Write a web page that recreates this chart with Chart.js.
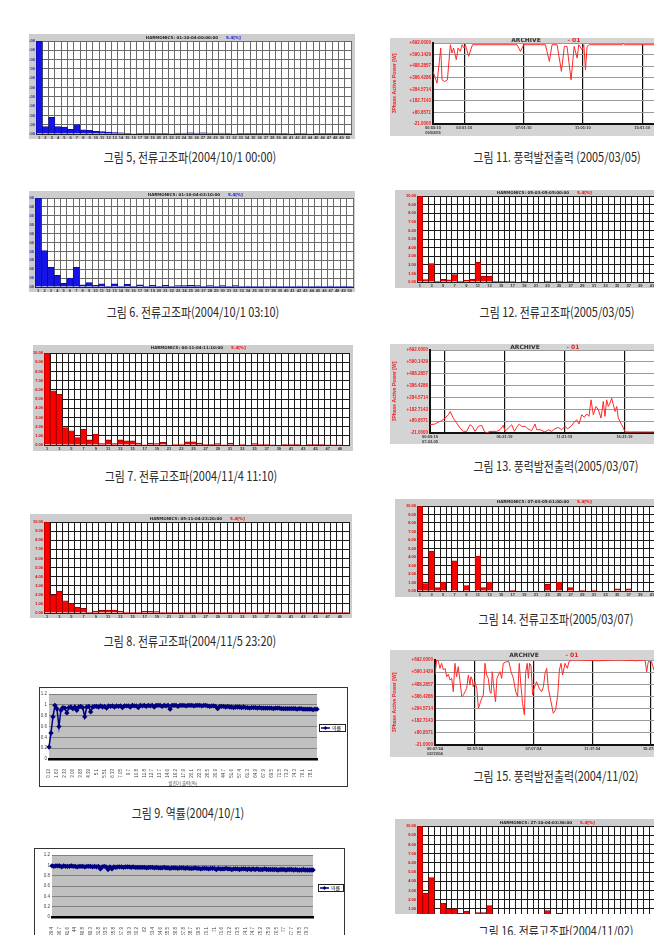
<!DOCTYPE html>
<html>
<head>
<meta charset="utf-8">
<script src="https://cdn.jsdelivr.net/npm/chart.js@4.4.1/dist/chart.umd.min.js"></script>
<style>
html, body { margin: 0; padding: 0; background: #fff; }
body { width: 654px; height: 935px; overflow: hidden; position: relative; font-family: "Noto Sans CJK KR", "Noto Sans", sans-serif; }
.panel { position: absolute; }
.panel canvas { position: absolute; left: 0; top: 0; }
.cap { position: absolute; font-size: 13px; line-height: 16px; color: #2a2a2a; white-space: nowrap; transform: translateX(-50%) scaleX(0.84); }
</style>
</head>
<body>
<script>
// harmonic order 1..50
const harmonicNo = [1,2,3,4,5,6,7,8,9,10,11,12,13,14,15,16,17,18,19,20,21,22,23,24,25,
  26,27,28,29,30,31,32,33,34,35,36,37,38,39,40,41,42,43,44,45,46,47,48,49,50];

// current harmonics [%]
const fig5Values = [10, 0.8, 1.8, 0.8, 0.75, 0.5, 1.0, 0.45, 0.4, 0.3,
  0.25, 0.2, 0.15, 0.12, 0.08, 0.05, 0.03, 0.03, 0.02, 0.02,
  0.02, 0.05, 0.08, 0.1, 0.12, 0.1, 0.12, 0.1, 0.08, 0.1,
  0.08, 0.05, 0.03, 0.02, 0.02, 0.02, 0.02, 0.02, 0.02, 0.03,
  0.05, 0.08, 0.06, 0.05, 0.03, 0.02, 0.02, 0.02, 0.02, 0.02];
const fig6Values = [10, 4.1, 2.2, 1.3, 0.4, 1.0, 2.2, 0.25, 0.5, 0.2,
  0.35, 0.05, 0.35, 0.05, 0.3, 0.05, 0.25, 0.05, 0.2, 0.05,
  0.2, 0.05, 0.15, 0.15, 0.2, 0.15, 0.05, 0.15, 0.05, 0.15,
  0.05, 0.15, 0.05, 0.1, 0.05, 0.05, 0.05, 0.1, 0.05, 0.05,
  0.05, 0.1, 0.05, 0.05, 0.1, 0.05, 0.1, 0.05, 0.1, 0.05];
const fig7Values = [10, 5.9, 5.5, 1.9, 1.55, 0.8, 1.7, 0.55, 1.2, 0.15,
  0.55, 0.15, 0.55, 0.45, 0.45, 0.2, 0.05, 0.2, 0.15, 0.3,
  0, 0.1, 0.1, 0.35, 0.35, 0.2, 0.07, 0.07, 0.15, 0.05,
  0.2, 0, 0.1, 0, 0.15, 0.1, 0.1, 0.05, 0, 0.07,
  0.1, 0.07, 0, 0.07, 0.07, 0.07, 0.05, 0.05, 0.05, 0];
const fig8Values = [10, 2.0, 2.4, 1.35, 1.05, 0.65, 0.5, 0.07, 0.2, 0.3,
  0.33, 0.33, 0.22, 0.1, 0.04, 0.07, 0.18, 0.18, 0.15, 0.07,
  0.07, 0.04, 0.07, 0.1, 0.1, 0.1, 0.07, 0.04, 0.04, 0.04,
  0.07, 0.07, 0.07, 0.04, 0.04, 0.04, 0.04, 0.04, 0.04, 0.04,
  0.04, 0.07, 0.07, 0.04, 0.04, 0.04, 0.04, 0.04, 0.04, 0.04];
const fig12Values = [10, 0.27, 2.15, 0.1, 0.3, 0.25, 0.85, 0.1, 0.2, 0.35,
  2.3, 0.7, 0.7, 0.03, 0.03, 0.02, 0.05, 0, 0.03, 0,
  0, 0, 0.1, 0, 0.1, 0, 0.03, 0, 0, 0,
  0, 0, 0, 0, 0, 0, 0, 0, 0, 0,
  0, 0, 0, 0, 0, 0, 0, 0, 0, 0];
const fig14Values = [10, 0.87, 4.7, 0.4, 1.05, 0, 3.55, 0, 0.65, 0,
  4.1, 0.4, 1.05, 0, 0, 0, 0.07, 0, 0, 0,
  0, 0, 0.8, 0, 1.05, 0, 0.4, 0, 0.05, 0,
  0.03, 0, 0, 0, 0.25, 0, 0.25, 0, 0, 0,
  0, 0, 0, 0, 0, 0, 0, 0, 0, 0];
const fig16Values = [10, 2.7, 4.4, 0, 1.6, 1.0, 1.0, 0.5, 0.75, 0,
  0.6, 0.6, 1.35, 0, 0, 0, 0, 0, 0, 0,
  0, 0, 0.8, 0, 0.5, 0, 0, 0, 0, 0,
  0, 0, 0, 0, 0, 0, 0, 0, 0, 0,
  0, 0, 0, 0, 0, 0, 0, 0, 0, 0];

// 3 phase active power, time in hours (fig 11, 13) / minutes (fig 15)
const powerTicks = [-21, 80.8571, 182.7143, 284.5714, 386.4286, 488.2857, 590.1429, 692];

const time11 = [0, 0.16, 0.27, 0.43, 0.52, 0.61, 0.79, 0.97, 1.17, 1.28, 1.39, 1.57, 1.69, 1.84, 1.96,
  2.09, 2.18, 2.40, 2.58, 2.67, 5.66, 5.89, 6.11, 7.57, 7.84, 8.02, 8.36, 8.65, 8.85, 9.03,
  9.30, 9.51, 9.71, 9.82, 10.04, 10.16, 10.27, 10.38, 10.54, 12.74, 12.81, 12.9, 19.2];
const power11 = [442, 383, 338, 530, 648, 368, 353, 368, 677, 604, 648, 545, 648, 618, 677,
  648, 677, 574, 648, 677, 677, 618, 677, 677, 530, 677, 677, 442, 662, 662,
  368, 662, 559, 677, 633, 677, 456, 662, 677, 677, 690, 677, 677];
const tickVals11 = [0, 2.1, 6.1, 10.1, 14.1];
const tickLabels11 = [['00:55:10', '05/03/05'], '03:01:10', '07:01:10', '11:01:10', '15:01:10'];

const time13 = [0, 0.42, 0.69, 0.97, 1.25, 1.53, 1.69, 1.94, 2.22, 2.50,
  2.78, 3.06, 3.33, 3.53, 3.75, 4.03, 4.31, 4.53, 4.72, 5.00,
  5.56, 5.83, 6.11, 6.25, 6.53, 6.81, 7.03, 7.22, 7.44, 7.64,
  7.92, 8.14, 8.47, 8.75, 8.89, 9.17, 9.58, 9.86, 10.14, 10.42,
  10.69, 10.97, 11.25, 11.47, 11.75, 12.03, 12.22, 12.42, 12.64, 12.86,
  13.06, 13.25, 13.42, 13.61, 13.83, 14.03, 14.25, 14.44, 14.58, 14.72,
  14.86, 15.00, 15.14, 15.28, 15.42, 15.56, 15.69, 15.83, 15.97, 16.11,
  16.25, 16.81, 24];
const power13 = [50, 56, 73, 85, 107, 136, 164, 107, 65, 22,
  -7, -7, 50, 36, -7, 36, 45, -7, -21, -7,
  -7, 7, 45, -7, 22, 50, -7, 27, 56, 36,
  36, 16, -1, 56, 7, 7, -12, 7, -7, 16,
  27, 7, 36, 16, 36, 73, 93, 56, 136, 113,
  142, 122, 264, 136, 207, 179, 107, 250, 122, 264,
  207, 236, 278, 221, 164, 207, 107, 79, 50, 22,
  -12, -12, -12];
const tickVals13 = [0, 1.2, 6.2, 11.2, 16.2];
const tickLabels13 = [['00:09:19', '07-03-05'], '', '06:21:19', '11:21:19', '16:21:19'];

const time15 = [0, 7, 14, 21, 28, 36, 43, 50, 57, 64, 71, 78, 85, 92, 99, 107, 114, 121, 128, 135,
  142, 149, 153, 159, 163, 170, 178, 185, 192, 199, 206, 213, 220, 227, 234, 239, 244, 253, 258, 264,
  270, 277, 284, 291, 305, 315, 324, 334, 344, 352, 359, 366, 373, 381, 386, 393, 398, 403, 409, 416,
  422, 433, 444, 454, 462, 469, 476, 483, 493, 504, 514, 523, 530, 537, 544, 554, 564, 571, 582, 604,
  696, 781, 859, 895, 902, 909, 923, 933, 944, 1065, 1206];
const power15 = [566, 692, 684, 622, 664, 608, 622, 552, 572, 524, 538, 426, 664, 552, 636, 510, 384, 398, 426, 454,
  566, 482, 552, 524, 468, 510, 454, 287, 328, 370, 398, 664, 566, 538, 426, 412, 594, 412, 342, 538,
  566, 594, 538, 664, 678, 678, 594, 538, 426, 384, 664, 482, 328, 231, 580, 664, 538, 664, 650, 398,
  454, 510, 454, 426, 468, 580, 622, 454, 356, 245, 273, 398, 608, 664, 566, 664, 622, 678, 692, 692,
  686, 692, 686, 692, 594, 678, 678, 608, 678, 684, 684];
const tickVals15 = [0, 170, 420, 670, 920];
const tickLabels15 = [['00:07:54', '02/11/04'], '02:57:54', '07:07:54', '11:17:54', '15:27:54'];

// power factor (Excel charts), 4 samples per shown label
const fig9Labels = ['0.13','1.63','2.33','3.06','3.68','4.39','5.1','5.51','6.33','7.05','9.7','10.8',
  '11.8','12.7','13.7','14.6','16.2','17.9','20.1','22.3','26.5','30.9','44.7','51.6','57.4','61.3',
  '64.9','67.9','69.5','71.5','73.2','74.3','76.1','78.1'];
const fig9Values = [0.22, 0.48, 0.78, 0.99,  0.93, 0.6, 0.9, 0.95,  0.94, 0.85, 0.95, 0.96,  0.93, 0.96, 0.9, 0.96,
  0.97, 0.95, 0.78, 0.96,  0.97, 0.87, 0.96, 0.97,  0.97, 0.96, 0.98, 0.96,  0.97, 0.94, 0.98, 0.97,
  0.98, 0.96, 0.98, 0.97,  0.98, 0.95, 0.98, 0.98,  0.98, 0.96, 0.99, 0.98,  0.98, 0.95, 0.99, 0.98,
  0.99, 0.97, 0.99, 0.98,  0.99, 0.96, 0.99, 0.99,  0.99, 0.97, 0.99, 0.98,  0.99, 0.92, 0.99, 0.99,
  0.99, 0.97, 0.99, 0.99,  0.99, 0.98, 0.99, 0.99,  0.99, 0.98, 0.99, 0.99,  0.99, 0.98, 0.99, 0.99,
  0.98, 0.97, 0.98, 0.98,  0.97, 0.93, 0.97, 0.97,  0.97, 0.96, 0.97, 0.96,  0.96, 0.95, 0.96, 0.96,
  0.96, 0.95, 0.96, 0.95,  0.95, 0.94, 0.95, 0.95,  0.95, 0.94, 0.95, 0.94,  0.94, 0.94, 0.94, 0.94,
  0.94, 0.93, 0.94, 0.94,  0.94, 0.93, 0.93, 0.93,  0.93, 0.93, 0.93, 0.93,  0.93, 0.92, 0.93, 0.93,
  0.92, 0.92, 0.92, 0.92,  0.92, 0.91, 0.92, 0.92];
const fig10Labels = ['29.4','36.7','41.6','44','46.8','49.3','51.8','53.5','55.8','57.9','59.3','60.2',
  '62','63.4','64.6','65.5','66.8','67.8','68.7','69.5','70.1','71','71.6','72.2','73.5','74.1',
  '74.7','75.2','75.9','76.5','77','77.7','78.5','79.3'];
const fig10Values = [0.99, 0.98, 0.99, 0.99,  0.99, 0.97, 0.99, 0.98,  0.98, 0.98, 0.99, 0.98,  0.98, 0.97, 0.98, 0.98,
  0.98, 0.97, 0.98, 0.98,  0.98, 0.97, 0.98, 0.97,  0.98, 0.93, 0.97, 0.98,  0.97, 0.92, 0.97, 0.93,
  0.97, 0.96, 0.97, 0.97,  0.97, 0.96, 0.97, 0.97,  0.97, 0.96, 0.97, 0.96,  0.96, 0.96, 0.96, 0.96,
  0.96, 0.95, 0.96, 0.96,  0.96, 0.95, 0.96, 0.95,  0.95, 0.95, 0.96, 0.95,  0.95, 0.94, 0.95, 0.95,
  0.95, 0.94, 0.95, 0.95,  0.95, 0.94, 0.95, 0.94,  0.94, 0.94, 0.95, 0.94,  0.94, 0.93, 0.94, 0.94,
  0.94, 0.93, 0.94, 0.94,  0.94, 0.92, 0.94, 0.93,  0.93, 0.93, 0.94, 0.93,  0.93, 0.92, 0.93, 0.93,
  0.93, 0.92, 0.93, 0.93,  0.93, 0.92, 0.93, 0.92,  0.93, 0.92, 0.93, 0.92,  0.92, 0.92, 0.93, 0.92,
  0.92, 0.92, 0.92, 0.92,  0.92, 0.91, 0.92, 0.92,  0.92, 0.91, 0.92, 0.92,  0.92, 0.91, 0.92, 0.91,
  0.91, 0.91, 0.92, 0.91,  0.91, 0.91, 0.91, 0.91];

// ---------- helpers ----------
const plotBg = {
  id: 'plotBg',
  beforeDraw(chart, args, opts) {
    const { ctx, chartArea: a } = chart;
    ctx.save();
    ctx.fillStyle = opts.color || '#fff';
    ctx.fillRect(a.left, a.top, a.width, a.height);
    ctx.restore();
  }
};
// small texts drawn on the panel (titles, legend)
const panelText = {
  id: 'panelText',
  afterDraw(chart, args, opts) {
    const ctx = chart.ctx;
    (opts.items || []).forEach(it => {
      ctx.save();
      ctx.font = it.font;
      ctx.fillStyle = it.color;
      ctx.textAlign = it.align || 'center';
      ctx.textBaseline = 'middle';
      ctx.fillText(it.text, it.x - opts.ox, it.y - opts.oy);
      ctx.restore();
    });
    if (opts.legend) {
      const L = opts.legend, x = L.x - opts.ox, y = L.y - opts.oy;
      ctx.save();
      ctx.fillStyle = '#fff';
      ctx.fillRect(x, y, L.w, L.h);
      ctx.strokeStyle = '#222';
      ctx.lineWidth = 1;
      ctx.strokeRect(x + 0.5, y + 0.5, L.w - 1, L.h - 1);
      ctx.strokeStyle = '#000080';
      ctx.lineWidth = 1.5;
      ctx.beginPath();
      ctx.moveTo(x + 2, y + L.h / 2);
      ctx.lineTo(x + 11, y + L.h / 2);
      ctx.stroke();
      ctx.fillStyle = '#000080';
      ctx.beginPath();
      ctx.moveTo(x + 6.5, y + L.h / 2 - 2);
      ctx.lineTo(x + 8.5, y + L.h / 2);
      ctx.lineTo(x + 6.5, y + L.h / 2 + 2);
      ctx.lineTo(x + 4.5, y + L.h / 2);
      ctx.fill();
      ctx.fillStyle = '#222';
      ctx.font = '5px "Noto Sans CJK KR"';
      ctx.textBaseline = 'middle';
      ctx.fillText(L.label, x + 13, y + L.h / 2 + 0.5);
      ctx.restore();
    }
  }
};

function fix(w, h) {
  return function (s) {
    if (w != null) s.width = w;
    if (h != null) s.height = h;
    s.paddingLeft = 0; s.paddingRight = 0; s.paddingTop = 0; s.paddingBottom = 0;
  };
}

function addPanel(box, bg, border) {
  const d = document.createElement('div');
  d.className = 'panel';
  d.style.left = box.x + 'px';
  d.style.top = box.y + 'px';
  d.style.width = box.w + 'px';
  d.style.height = box.h + 'px';
  d.style.background = bg;
  if (border) d.style.boxShadow = 'inset 0 0 0 1px #333';
  const c = document.createElement('canvas');
  c.width = box.w;
  c.height = box.h;
  d.appendChild(c);
  document.body.appendChild(d);
  return c;
}

function caption(text, cx, cy) {
  const d = document.createElement('div');
  d.className = 'cap';
  d.textContent = text;
  d.style.left = cx + 'px';
  d.style.top = (cy - 8) + 'px';
  document.body.appendChild(d);
  return d;
}

function harmonicChart(box, plot, values, opt) {
  const cv = addPanel(box, '#cdcdcd');
  return new Chart(cv, {
    type: 'bar',
    data: {
      labels: harmonicNo,
      datasets: [{
        data: values,
        backgroundColor: opt.fill,
        borderColor: opt.edge,
        borderWidth: 0.8,
        barPercentage: 1,
        categoryPercentage: 1
      }]
    },
    options: {
      responsive: false,
      animation: false,
      devicePixelRatio: 1,
      layout: { padding: { left: 0, top: plot.t - box.y, right: box.x + box.w - plot.r, bottom: 0 } },
      plugins: {
        legend: { display: false },
        tooltip: { enabled: false },
        plotBg: { color: '#fff' },
        panelText: {
          ox: box.x, oy: box.y,
          items: [
            { text: opt.title, x: opt.tx, y: opt.ty, font: 'bold 4px "DejaVu Sans"', color: '#222', align: 'right' },
            { text: 'S.4[%]', x: opt.tx + 8, y: opt.ty, font: 'bold 4px "DejaVu Sans"', color: opt.fill, align: 'left' }
          ]
        }
      },
      scales: {
        x: {
          grid: { color: opt.grid, drawTicks: false, offset: true },
          border: { color: '#222' },
          ticks: {
            autoSkip: false, maxRotation: 0, minRotation: 0, padding: 1,
            font: { size: 4, weight: 'bold' }, color: '#333',
            callback: (v, i) => (opt.every2 && i % 2) ? '' : harmonicNo[i]
          },
          afterFit: fix(null, box.y + box.h - plot.b)
        },
        y: {
          min: 0, max: 10,
          ticks: { stepSize: 1, padding: 1, font: { size: 4, weight: 'bold' }, color: opt.tick, callback: v => v.toFixed(2) },
          grid: { color: opt.grid, drawTicks: false },
          border: { color: '#222' },
          afterFit: fix(plot.l - box.x, null)
        }
      }
    },
    plugins: [plotBg, panelText]
  });
}

function powerChart(box, plot, xs, ys, xmax, tickVals, tickLabels, titleX, titleY) {
  const cv = addPanel(box, '#d4d4d4');
  return new Chart(cv, {
    type: 'line',
    data: {
      datasets: [{
        data: xs.map((x, i) => ({ x: x, y: ys[i] })),
        borderColor: '#ff2a2a',
        borderWidth: 1,
        pointRadius: 0,
        tension: 0
      }]
    },
    options: {
      responsive: false,
      animation: false,
      devicePixelRatio: 1,
      layout: { padding: { left: 0, top: plot.t - box.y, right: box.x + box.w - plot.r, bottom: 0 } },
      plugins: {
        legend: { display: false },
        tooltip: { enabled: false },
        plotBg: { color: '#fff' },
        panelText: {
          ox: box.x, oy: box.y,
          items: [
            { text: 'ARCHIVE', x: titleX, y: titleY, font: 'bold 6px "DejaVu Sans"', color: '#333', align: 'center' },
            { text: '- 01', x: titleX + 48, y: titleY, font: 'bold 6px "DejaVu Sans"', color: '#ee2222', align: 'center' }
          ]
        }
      },
      scales: {
        x: {
          type: 'linear', min: 0, max: xmax,
          afterBuildTicks: s => { s.ticks = tickVals.map(v => ({ value: v })); },
          grid: { color: '#111', lineWidth: 1.2, drawTicks: false },
          border: { color: '#111', width: 2 },
          ticks: {
            autoSkip: false, maxRotation: 0, padding: 2,
            font: { size: 4, weight: 'bold', lineHeight: 1.1 }, color: '#333',
            callback: (v, i) => tickLabels[i]
          },
          afterFit: fix(null, box.y + box.h - plot.b)
        },
        y: {
          min: -21, max: 692,
          afterBuildTicks: s => { s.ticks = powerTicks.map(v => ({ value: v })); },
          grid: { color: '#9a9a9a', drawTicks: false },
          border: { color: '#111', width: 2 },
          ticks: {
            padding: 2, font: { size: 4.5, weight: 'bold' }, color: '#ee2222',
            callback: v => (v > 0 ? '+' : '') + v.toFixed(4)
          },
          title: { display: true, text: '3Phase Active Power [W]', color: '#ee2222', font: { size: 5, weight: 'bold' }, padding: { top: 1.5, bottom: 0 } },
          afterFit: fix(plot.l - box.x, null)
        }
      }
    },
    plugins: [plotBg, panelText]
  });
}

function excelChart(box, plot, shownLabels, values, legend) {
  const cv = addPanel(box, '#fff', true);
  // one shown label followed by three unlabelled samples
  const labels = shownLabels.flatMap(l => [l, '', '', '']);
  return new Chart(cv, {
    type: 'line',
    data: {
      labels: labels,
      datasets: [{
        label: '역률',
        data: values,
        borderColor: '#000080',
        backgroundColor: '#000080',
        borderWidth: 1.5,
        pointStyle: 'rectRot',
        pointRadius: 1.6,
        tension: 0
      }]
    },
    options: {
      responsive: false,
      animation: false,
      devicePixelRatio: 1,
      layout: { padding: { left: 0, top: plot.t - box.y, right: box.x + box.w - plot.r, bottom: 0 } },
      plugins: {
        legend: { display: false },
        tooltip: { enabled: false },
        plotBg: { color: '#c0c0c0' },
        panelText: { ox: box.x, oy: box.y, items: [], legend: legend }
      },
      scales: {
        x: {
          offset: false,
          grid: { display: false },
          border: { color: '#000', width: 2.5 },
          ticks: {
            autoSkip: false, minRotation: 90, maxRotation: 90, padding: 2,
            font: { size: 4.5 }, color: '#444',
            callback: (v, i) => labels[i]
          },
          title: { display: true, text: '발전기 출력(%)', color: '#444', font: { size: 4.5, family: '"Noto Sans CJK KR"' }, padding: { top: 0, bottom: 1 } },
          afterFit: fix(null, box.y + box.h - plot.b)
        },
        y: {
          min: 0, max: 1.2,
          ticks: { stepSize: 0.2, padding: 2, font: { size: 4.5 }, color: '#444', callback: v => String(Number(v.toFixed(1))) },
          grid: { color: '#808080', drawTicks: false },
          border: { display: false },
          afterFit: fix(plot.l - box.x, null)
        }
      }
    },
    plugins: [plotBg, panelText]
  });
}

// ---------- left column ----------
harmonicChart({ x: 29, y: 34, w: 326, h: 105 }, { l: 36, t: 41, r: 351, b: 134 }, fig5Values,
  { fill: '#1414e6', edge: '#0a0a90', grid: '#6a6a6a', tick: '#2a2aa0', every2: false,
    title: 'HARMONICS: 01-10-04-00:00:00', tx: 218, ty: 37.5 });
harmonicChart({ x: 29, y: 191, w: 326, h: 101 }, { l: 35, t: 198, r: 353, b: 287 }, fig6Values,
  { fill: '#1414e6', edge: '#0a0a90', grid: '#6a6a6a', tick: '#2a2aa0', every2: false,
    title: 'HARMONICS: 01-10-04-03:10:00', tx: 220, ty: 195 });
harmonicChart({ x: 33, y: 345, w: 320, h: 106 }, { l: 44, t: 353, r: 349, b: 445 }, fig7Values,
  { fill: '#ff0000', edge: '#8a0000', grid: '#1a1a1a', tick: '#e00000', every2: true,
    title: 'HARMONICS: 04-11-04-11:10:00', tx: 223, ty: 348 });
harmonicChart({ x: 30, y: 514, w: 322, h: 104 }, { l: 44, t: 522, r: 349, b: 613 }, fig8Values,
  { fill: '#ff0000', edge: '#8a0000', grid: '#1a1a1a', tick: '#e00000', every2: true,
    title: 'HARMONICS: 05-11-04-23:20:00', tx: 222, ty: 518.5 });

excelChart({ x: 39, y: 687, w: 309, h: 100 }, { l: 49, t: 694, r: 317, b: 759 }, fig9Labels, fig9Values,
  { x: 319, y: 724, w: 27, h: 8, label: '역률' });
excelChart({ x: 34, y: 848, w: 311, h: 100 }, { l: 52, t: 855, r: 313, b: 917 }, fig10Labels, fig10Values,
  { x: 318, y: 884, w: 26, h: 8, label: '역률' });

// ---------- right column ----------
powerChart({ x: 390, y: 38, w: 330, h: 98 }, { l: 433, t: 43, r: 718, b: 124 },
  time11, power11, 19.2, tickVals11, tickLabels11, 526, 40);
harmonicChart({ x: 395, y: 190, w: 320, h: 98 }, { l: 417, t: 196, r: 707, b: 282 }, fig12Values,
  { fill: '#ff0000', edge: '#8a0000', grid: '#1a1a1a', tick: '#e00000', every2: true,
    title: 'HARMONICS: 05-03-05-05:00:00', tx: 569, ty: 192.5 });
powerChart({ x: 390, y: 344, w: 330, h: 100 }, { l: 430, t: 350, r: 718, b: 433 },
  time13, power13, 24, tickVals13, tickLabels13, 525, 347);
harmonicChart({ x: 395, y: 499, w: 320, h: 98 }, { l: 417, t: 506, r: 707, b: 591 }, fig14Values,
  { fill: '#ff0000', edge: '#8a0000', grid: '#1a1a1a', tick: '#e00000', every2: true,
    title: 'HARMONICS: 07-03-05-01:00:00', tx: 569, ty: 501.5 });
powerChart({ x: 390, y: 650, w: 330, h: 107 }, { l: 435, t: 660, r: 718, b: 745 },
  time15, power15, 1206, tickVals15, tickLabels15, 524, 655);
harmonicChart({ x: 395, y: 819, w: 320, h: 100 }, { l: 417, t: 826, r: 707, b: 918 }, fig16Values,
  { fill: '#ff0000', edge: '#8a0000', grid: '#1a1a1a', tick: '#e00000', every2: true,
    title: 'HARMONICS: 27-10-04-03:36:00', tx: 572, ty: 823 });

// ---------- captions ----------
caption('그림 5, 전류고조파(2004/10/1 00:00)', 190, 157);
caption('그림 6. 전류고조파(2004/10/1 03:10)', 193, 312);
caption('그림 7. 전류고조파(2004/11/4 11:10)', 191, 476);
caption('그림 8. 전류고조파(2004/11/5 23:20)', 190, 641);
caption('그림 9. 역률(2004/10/1)', 188, 813);
caption('그림 11. 풍력발전출력 (2005/03/05)', 557, 157);
caption('그림 12. 전류고조파(2005/03/05)', 557, 312);
caption('그림 13. 풍력발전출력(2005/03/07)', 556, 466);
caption('그림 14. 전류고조파(2005/03/07)', 556, 619);
caption('그림 15. 풍력발전출력(2004/11/02)', 556, 776);
const c16 = caption('그림 16. 전류고조파(2004/11/02)', 556, 931);
// white band under the last, cut-off chart
const band = document.createElement('div');
band.style.cssText = 'position:absolute;left:388px;top:914px;width:270px;height:21px;background:#fff;';
document.body.insertBefore(band, c16);
</script>
</body>
</html>
